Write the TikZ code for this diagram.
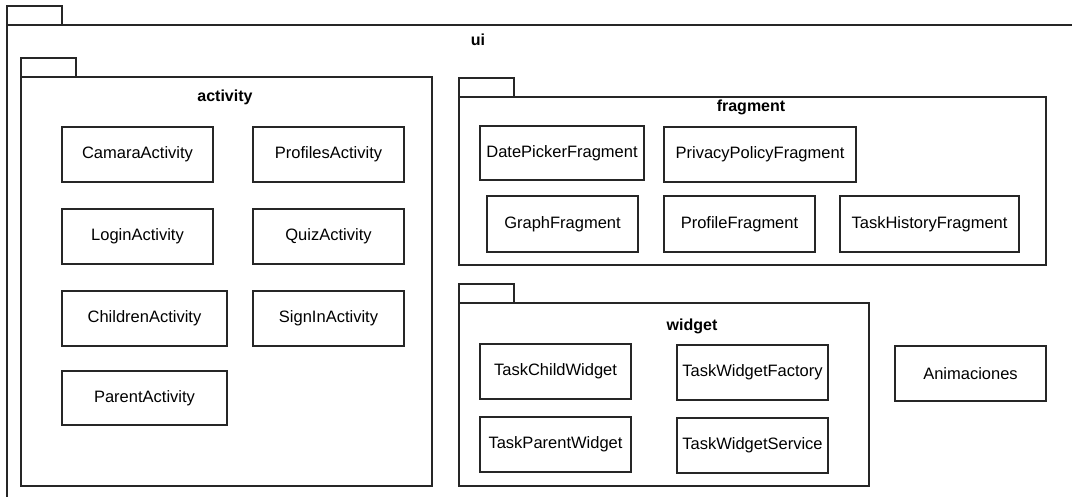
\documentclass[tikz,border=0pt]{standalone}
\usepackage{fontspec}
\setmainfont{Liberation Sans}
\begin{document}
\begin{tikzpicture}[x=1pt,y=-1pt,
  line/.style={draw=black!85,line width=1.3pt},
  cls/.style={line,rectangle,inner sep=0pt,font=\fontsize{16.5}{19}\selectfont},
  pkgbody/.style={line,rectangle,inner sep=0pt},
  pkgtab/.style={line},
  pkgname/.style={inner sep=0pt,font=\fontsize{16}{19}\selectfont\bfseries}]
% box from corner (x1,y1) to (x2,y2)
\newcommand{\umlbox}[6]{%
  \node[cls,minimum width={(#4-#2)*1pt},minimum height={(#5-#3)*1pt}]
    (#1) at ({(#2+#4)/2},{(#3+#5)/2}) {#6};}
% package: tab, body and bold name
\newcommand{\umlpkg}[7]{%
  \draw[pkgtab] (#2,{#3-19}) rectangle ({#2+55},#3);
  \node[pkgbody,minimum width={(#4-#2)*1pt},minimum height={(#5-#3)*1pt}]
    (#1) at ({(#2+#4)/2},{(#3+#5)/2}) {};
  \node[pkgname] (#1-name) at #6 {#7};}
\clip (0,0) rectangle (1072,496);
\fill[white] (0,0) rectangle (1072,496);

% outer package ui
\umlpkg{ui}{7}{25}{1090}{520}{(478,40)}{ui}

% activity
\umlpkg{activity}{21}{77}{432}{486}{(225,97)}{activity}
\umlbox{camara}{62}{127}{213}{182}{CamaraActivity}
\umlbox{profiles}{253}{127}{404}{182}{ProfilesActivity}
\umlbox{login}{62}{209}{213}{264}{LoginActivity}
\umlbox{quiz}{253}{209}{404}{264}{QuizActivity}
\umlbox{children}{62}{291}{227}{346}{ChildrenActivity}
\umlbox{signin}{253}{291}{404}{346}{SignInActivity}
\umlbox{parent}{62}{371}{227}{425}{ParentActivity}

% fragment
\umlpkg{fragment}{459}{97}{1046}{265}{(751,107)}{fragment}
\umlbox{datepicker}{480}{126}{644}{180}{DatePickerFragment}
\umlbox{privacy}{664}{127}{856}{182}{PrivacyPolicyFragment}
\umlbox{graph}{487}{196}{638}{252}{GraphFragment}
\umlbox{profile}{664}{196}{815}{252}{ProfileFragment}
\umlbox{taskhistory}{840}{196}{1019}{252}{TaskHistoryFragment}

% widget
\umlpkg{widget}{459}{303}{869}{486}{(692,326)}{widget}
\umlbox{taskchild}{480}{344}{631}{399}{TaskChildWidget}
\umlbox{taskparent}{480}{417}{631}{472}{TaskParentWidget}
\umlbox{factory}{677}{345}{828}{400}{TaskWidgetFactory}
\umlbox{service}{677}{418}{828}{473}{TaskWidgetService}

\umlbox{animaciones}{895}{346}{1046}{401}{Animaciones}
\end{tikzpicture}
\end{document}
